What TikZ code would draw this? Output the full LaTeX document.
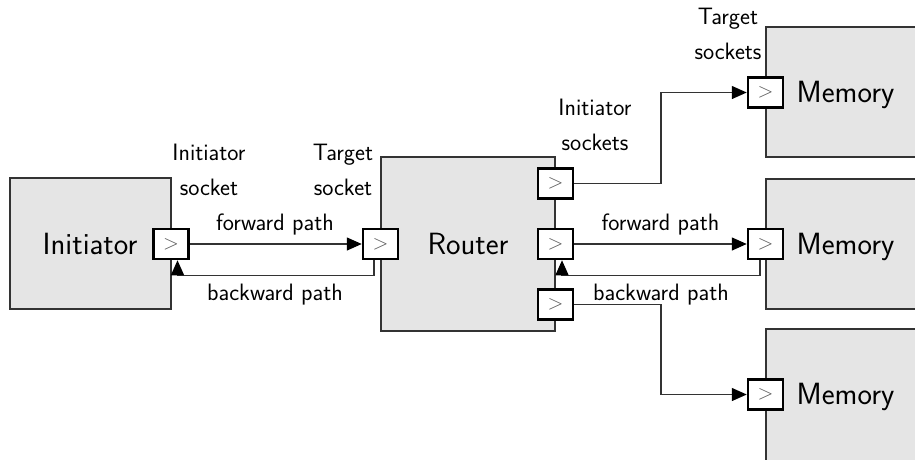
\documentclass[tikz,border=0pt]{standalone}
\usetikzlibrary{arrows.meta}
\begin{document}
\begin{tikzpicture}[x=1pt,y=-1pt,
  box/.style={draw=black!80, line width=1.3pt, fill=black!10, rectangle, inner sep=0pt},
  sock/.style={draw=black, line width=2.5pt, fill=white, rectangle, minimum width=35pt, minimum height=30pt, inner sep=0pt, text=black!65, font=\fontsize{22}{24}\selectfont},
  big/.style={font=\sffamily\fontsize{30.7}{36}\selectfont, anchor=base, inner sep=0pt},
  lbl/.style={font=\sffamily\fontsize{23.7}{35}\selectfont, anchor=base, align=center, inner sep=0pt},
  conn/.style={draw=black!80, line width=1.4pt},
  arr/.style={conn, -{Triangle[length=15pt,width=13pt,color=black]}}
]
\useasboundingbox (0,0) rectangle (915,459);
\clip (0,0) rectangle (915,459);

% boxes
\node[box, minimum width=161pt, minimum height=131pt] (ini) at (90.5,243.5) {};
\node[box, minimum width=174pt, minimum height=174pt] (rou) at (468,244) {};
\node[box, minimum width=164pt, minimum height=130pt] (mem1) at (848,92) {};
\node[box, minimum width=164pt, minimum height=130pt] (mem2) at (848,244) {};
\node[box, minimum width=164pt, minimum height=160pt] (mem3) at (848,409) {};

% box texts
\node[big] (iniL) at (90,254) {Initiator};
\node[big] (rouL) at (468,254) {Router};
\node[big] (mem1L) at (845.5,102) {Memory};
\node[big] (mem2L) at (845.5,254) {Memory};
\node[big] (mem3L) at (845.5,404) {Memory};

% sockets
\node[sock] (is) at (171,244) {$>$};
\node[sock] (rt) at (380.5,244) {$>$};
\node[sock] (r1) at (555.5,183.5) {$>$};
\node[sock] (r2) at (555.5,244) {$>$};
\node[sock] (r3) at (555.5,304.5) {$>$};
\node[sock] (m1) at (765.5,92.5) {$>$};
\node[sock] (m2) at (765.5,244) {$>$};
\node[sock] (m3) at (765.5,394.5) {$>$};

% helper coordinate for the fan-out
\coordinate (fan) at (661,0);

% connectors
\draw[arr] (is.east) -- (rt.west);
\draw[arr] ([xshift=-6.5pt]rt.south) -- ++(0,15) -| ([xshift=6.5pt]is.south);
\draw[arr] (r2.east) -- (m2.west);
\draw[arr] ([xshift=-5.5pt]m2.south) -- ++(0,15) -| ([xshift=6.5pt]r2.south);
\draw[arr] (r1.east) -- (r1.east -| fan) |- (m1.west);
\draw[arr] (r3.east) -- (r3.east -| fan) |- (m3.west);

% labels (anchor = baseline of the last line)
\node[lbl] (l1) at (209,195) {Initiator\\socket};
\node[lbl] (l2) at (343,195) {Target\\socket};
\node[lbl] (l3) at (275,230) {forward path};
\node[lbl] (l4) at (275,300) {backward path};
\node[lbl] (l5) at (595,150) {Initiator\\sockets};
\node[lbl] (l6) at (660.5,230) {forward path};
\node[lbl] (l7) at (661,300) {backward path};
\node[lbl] (l8) at (728,59) {Target\\sockets};
\end{tikzpicture}
\end{document}
